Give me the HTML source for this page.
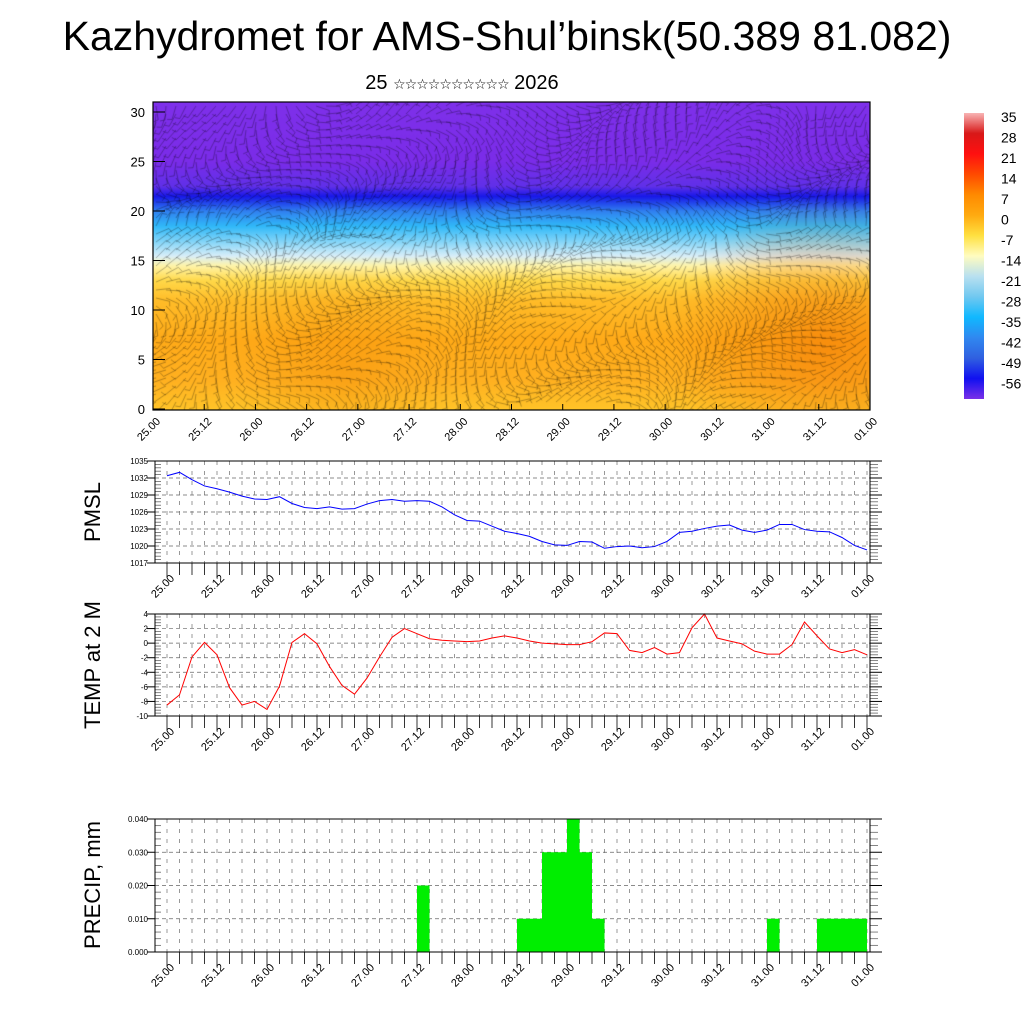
<!DOCTYPE html>
<html><head><meta charset="utf-8">
<style>
html,body{margin:0;padding:0;background:#fff;width:1024px;height:1024px;overflow:hidden;font-family:"Liberation Sans","DejaVu Sans",sans-serif}
#title{position:absolute;left:0;width:1014px;top:13px;text-align:center;font-size:41px;color:#000}
#subtitle{position:absolute;left:0;width:924px;top:72px;text-align:center;font-size:20px;color:#000}
#subtitle .st{font-size:14px;letter-spacing:-1px}
svg{position:absolute;left:0;top:0}
#field{position:absolute;left:153px;top:102px}
</style></head>
<body>
<div id="title">Kazhydromet for AMS-Shul’binsk(50.389 81.082)</div>
<div id="subtitle">25 <span class="st">☆☆☆☆☆☆☆☆☆☆</span> 2026</div>
<canvas id="field" width="717" height="308"></canvas>
<svg id="svg" width="1024" height="1024"></svg>
<script>
// ---- data ----
const xLabels = ["25.00","25.12","26.00","26.12","27.00","27.12","28.00","28.12","29.00","29.12","30.00","30.12","31.00","31.12","01.00"];
const pmslTicks = [1017,1020,1023,1026,1029,1032,1035];
const pmsl = [1032.4,1033.0,1031.7,1030.6,1030.1,1029.5,1028.8,1028.3,1028.2,1028.7,1027.5,1026.8,1026.6,1026.9,1026.5,1026.6,1027.4,1028.0,1028.2,1027.9,1028.0,1027.9,1026.9,1025.5,1024.5,1024.4,1023.5,1022.6,1022.2,1021.7,1020.8,1020.2,1020.1,1020.8,1020.7,1019.6,1019.9,1020.0,1019.7,1019.9,1020.8,1022.4,1022.6,1023.1,1023.5,1023.7,1022.8,1022.4,1022.8,1023.8,1023.8,1022.9,1022.6,1022.5,1021.5,1020.1,1019.3];
const tempTicks = [-10,-8,-6,-4,-2,0,2,4];
const temp = [-8.5,-7.1,-1.9,0.1,-1.6,-6.1,-8.5,-8.0,-9.1,-5.9,0.1,1.3,-0.1,-3.2,-5.8,-7.0,-4.8,-1.9,0.8,2.0,1.3,0.6,0.4,0.3,0.2,0.3,0.7,1.0,0.7,0.3,0.0,-0.1,-0.2,-0.2,0.2,1.4,1.3,-1.0,-1.3,-0.6,-1.5,-1.3,2.1,4.0,0.7,0.3,-0.1,-1.1,-1.5,-1.5,-0.2,2.9,1.0,-0.8,-1.3,-0.9,-1.6];
const precipTicks = [0,0.01,0.02,0.03,0.04];
const precipLabels = ["0.000","0.010","0.020","0.030","0.040"];
const precip = [0,0,0,0,0,0,0,0,0,0,0,0,0,0,0,0,0,0,0,0,0.02,0,0,0,0,0,0,0,0.01,0.01,0.03,0.03,0.04,0.03,0.01,0,0,0,0,0,0,0,0,0,0,0,0,0,0.01,0,0,0,0.01,0.01,0.01,0.01];
const heightTicks = [0,5,10,15,20,25,30];
const cbLabels = ["35","28","21","14","7","0","-7","-14","-21","-28","-35","-42","-49","-56"];
const cbColors = ["#f8b4b4","#d81818","#ff1010","#ff4a00","#ff8a00","#ffaa10","#ffe040","#fffcc0","#b8e0f0","#70c8f0","#10b8ff","#3088f0","#3060e0","#1010f0","#7a30e8"];

const NS="http://www.w3.org/2000/svg";
const svg=document.getElementById('svg');
function el(tag,attrs,parent){const e=document.createElementNS(NS,tag);for(const k in attrs)e.setAttribute(k,attrs[k]);(parent||svg).appendChild(e);return e;}
function txt(s,attrs,parent){const e=el('text',attrs,parent);e.textContent=s;return e;}

(function(){
  const c=document.getElementById('field').getContext('2d');
  const W=717,H=308;
  const g=c.createLinearGradient(0,H,0,0);
  const stops=[[0,'#ffc428'],[3,'#ffb020'],[7,'#ffaa18'],[11,'#ffbc28'],[13,'#ffd848'],[14.5,'#fff4a8'],[15.5,'#d8eef8'],[17,'#80d4f8'],[18.5,'#30b8f8'],[20,'#3080f0'],[21.5,'#1818e8'],[22.5,'#6030e8'],[25,'#7a2ce8'],[31,'#7e30ea']];
  stops.forEach(s=>g.addColorStop(Math.min(1,s[0]/31),s[1]));
  c.fillStyle=g;c.fillRect(0,0,W,H);
  const r=c.createRadialGradient(670,240,10,670,240,150);r.addColorStop(0,'rgba(240,110,0,0.45)');r.addColorStop(1,'rgba(240,110,0,0)');
  c.fillStyle=r;c.fillRect(0,0,W,H);
  const r2=c.createRadialGradient(190,270,5,190,270,110);r2.addColorStop(0,'rgba(240,130,0,0.3)');r2.addColorStop(1,'rgba(240,130,0,0)');
  c.fillStyle=r2;c.fillRect(0,0,W,H);
  c.strokeStyle='rgba(0,0,0,0.42)';c.lineWidth=0.7;
  for(let y=4;y<H;y+=8){for(let x=3;x<W;x+=10){
    const a=Math.sin(x*0.02+y*0.03)*1.2+Math.cos(x*0.008-y*0.02)*0.9+ (y<130?0.3:1.3);
    const L=14;const dx=Math.cos(a)*L,dy=Math.sin(a)*L;
    c.beginPath();c.moveTo(x,y);c.lineTo(x+dx,y+dy);
    c.lineTo(x+dx+Math.cos(a+1.3)*5,y+dy+Math.sin(a+1.3)*5);c.stroke();
  }}
})();
(function(){
  const L=153,R=870,T=102,B=410;
  el('rect',{x:L,y:T,width:R-L,height:B-T,fill:'none',stroke:'#000','stroke-width':1.2,});
  const y=h=>409-(h/30)*297;
  heightTicks.forEach(h=>{
    el('line',{x1:L,x2:L+12,y1:y(h),y2:y(h),stroke:'#000'});
    const t=txt(String(h),{x:L-8,y:y(h)+5,'text-anchor':'end','font-size':13});
    
  });
  const x=i=>L+(R-L)/56*i;
  xLabels.forEach((s,k)=>{const xx=x(k*4);
    el('line',{x1:xx,x2:xx,y1:B,y2:B-6,stroke:'#000'});
    const t=txt(s,{x:xx+8,y:B+12,'text-anchor':'end','font-size':11,transform:`rotate(-45 ${xx+8} ${B+12})`});
    
  });
  const cx=964,cy=113,ch=286,n=cbColors.length;
  const lg=el('linearGradient',{id:'cbg',x1:0,y1:0,x2:0,y2:1},el('defs',{}));
  cbColors.forEach((c,i)=>el('stop',{offset:i/(n-1),'stop-color':c},lg));
  el('rect',{x:cx,y:cy,width:20,height:ch,fill:'url(#cbg)',});
  cbLabels.forEach((s,i)=>{const t=txt(s,{x:1001,y:122+i*20.5,'font-size':14});
    });
})();

function chart(opt){
  const {L,R,T,B,ticks,labels,min,max,name,ylabel,ylabelY}=opt;
  const g=el('g',{});
  
  const xs=i=>167+12.5*i;
  const ys=v=>B-(v-min)/(max-min)*(B-T);
  for(let i=0;i<=56;i++){el('line',{x1:xs(i),x2:xs(i),y1:T,y2:B,stroke:'#555','stroke-width':0.6,'stroke-dasharray':'4 6'},g);}
  ticks.forEach((v,k)=>{
    el('line',{x1:L,x2:R,y1:ys(v),y2:ys(v),stroke:'#666','stroke-width':0.7,'stroke-dasharray':'4 3'},g);
    el('line',{x1:L,x2:L-8,y1:ys(v),y2:ys(v),stroke:'#000'},g);
    el('line',{x1:R,x2:R+12,y1:ys(v),y2:ys(v),stroke:'#000'},g);
    const t=txt(labels[k],{x:L-7,y:ys(v)+3,'text-anchor':'end','font-size':8},g);
    
    if(k<ticks.length-1){for(let m=1;m<5;m++){const yy=ys(v)+(ys(ticks[k+1])-ys(v))*m/5;
      el('line',{x1:L,x2:L+6,y1:yy,y2:yy,stroke:'#666','stroke-width':0.8},g);
      el('line',{x1:R,x2:R+8,y1:yy,y2:yy,stroke:'#666','stroke-width':0.8},g);}}
  });
  for(let i=0;i<=56;i++){el('line',{x1:xs(i),x2:xs(i),y1:B,y2:B+(i%4==0?14:12),stroke:'#000','stroke-width':0.8},g);}
  xLabels.forEach((s,k)=>{const xx=xs(k*4);
    const t=txt(s,{x:xx+8,y:B+16,'text-anchor':'end','font-size':11,transform:`rotate(-45 ${xx+8} ${B+16})`},g);
    });
  const yl=txt(ylabel,{x:100,y:ylabelY,'text-anchor':'middle','font-size':22,transform:`rotate(-90 100 ${ylabelY})`},g);
  
  if(opt.series){
    const pts=opt.series.map((v,i)=>xs(i)+','+ys(v)).join(' ');
    const pl=el('polyline',{points:pts,fill:'none',stroke:opt.color,'stroke-width':1},g);
    
  }
  if(opt.bars){
    opt.bars.forEach((v,i)=>{if(v<=0)return;
      const r=el('rect',{x:xs(i),y:ys(v),width:12.5,height:ys(0)-ys(v),fill:'#00ee00'},g);
      });
  }
  el('rect',{x:L,y:T,width:R-L,height:B-T,fill:'none',stroke:'#000','stroke-width':1},g);
}
chart({L:155,R:870,T:461,B:563,ticks:pmslTicks,labels:pmslTicks.map(String),min:1017,max:1035,name:'pmsl',ylabel:'PMSL',ylabelY:512,series:pmsl,color:'#0000ff'});
chart({L:155,R:870,T:614,B:716,ticks:tempTicks,labels:tempTicks.map(String),min:-10,max:4,name:'temp',ylabel:'TEMP at 2 M',ylabelY:665,series:temp,color:'#ff0000'});
chart({L:155,R:870,T:819,B:952,ticks:precipTicks,labels:precipLabels,min:0,max:0.04,name:'precip',ylabel:'PRECIP, mm',ylabelY:885,bars:precip});
</script>
</body></html>
